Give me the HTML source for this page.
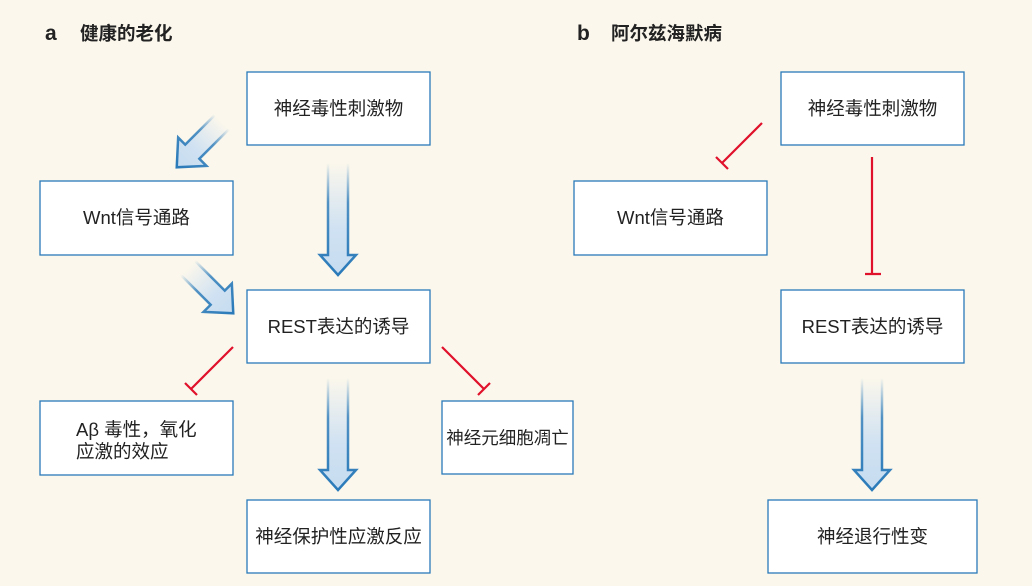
<!DOCTYPE html>
<html><head><meta charset="utf-8"><style>
body{margin:0;background:#fbf7ec;}
svg{display:block}
text{font-family:"Liberation Sans","Noto Sans CJK SC",sans-serif;font-size:18.5px;fill:#222;}
.b{fill:#fff;stroke:#2a7ab9;stroke-width:1.3}
.r{stroke:#e0112b;stroke-width:2.2;fill:none}
</style></head><body>
<svg width="1032" height="586" viewBox="0 0 1032 586">
<defs>
<linearGradient id="gf" x1="0" y1="0" x2="0" y2="1">
<stop offset="0" stop-color="#fbf7ec"/><stop offset="0.6" stop-color="#cfe1f2"/><stop offset="1" stop-color="#c6dcf0"/></linearGradient>
<linearGradient id="gs" x1="0" y1="0" x2="0" y2="1">
<stop offset="0" stop-color="#2a7ab9" stop-opacity="0"/><stop offset="0.35" stop-color="#2a7ab9" stop-opacity="0.8"/><stop offset="1" stop-color="#2a7ab9"/></linearGradient>
<g id="av">
<path d="M-10,0 L-10,92 L-18,92 L0,112 L18,92 L10,92 L10,0Z" fill="url(#gf)"/>
<path d="M-10,0 L-10,92 L-18,92 L0,112 L18,92 L10,92 L10,0" fill="none" stroke="url(#gs)" stroke-width="2.5"/>
</g>
<g id="ad">
<path d="M-10,0 L-10,42 L-20,42 L0,64 L20,42 L10,42 L10,0Z" fill="url(#gf)"/>
<path d="M-10,0 L-10,42 L-20,42 L0,64 L20,42 L10,42 L10,0" fill="none" stroke="url(#gs)" stroke-width="2.5"/>
</g>
</defs>
<text x="45" y="40" style="font-weight:bold;font-size:21px">a</text>
<text x="80" y="40" style="font-weight:bold">健康的老化</text>
<text x="577" y="40" style="font-weight:bold;font-size:21px">b</text>
<text x="611" y="40" style="font-weight:bold">阿尔兹海默病</text>

<rect class="b" x="247" y="72" width="183" height="73"/><text x="338.5" y="115" text-anchor="middle">神经毒性刺激物</text>
<rect class="b" x="40" y="181" width="193" height="74"/><text x="136.5" y="224" text-anchor="middle">Wnt信号通路</text>
<rect class="b" x="247" y="290" width="183" height="73"/><text x="338.5" y="333" text-anchor="middle">REST表达的诱导</text>
<rect class="b" x="40" y="401" width="193" height="74"/><text x="76" y="436">Aβ 毒性，氧化</text><text x="76" y="458">应激的效应</text>
<rect class="b" x="442" y="401" width="131" height="73"/><text x="507.5" y="444" text-anchor="middle" style="font-size:17.5px">神经元细胞凋亡</text>
<rect class="b" x="247" y="500" width="183" height="73"/><text x="338.5" y="543" text-anchor="middle">神经保护性应激反应</text>

<rect class="b" x="781" y="72" width="183" height="73"/><text x="872.5" y="115" text-anchor="middle">神经毒性刺激物</text>
<rect class="b" x="574" y="181" width="193" height="74"/><text x="670.5" y="224" text-anchor="middle">Wnt信号通路</text>
<rect class="b" x="781" y="290" width="183" height="73"/><text x="872.5" y="333" text-anchor="middle">REST表达的诱导</text>
<rect class="b" x="768" y="500" width="209" height="73"/><text x="872.5" y="543" text-anchor="middle">神经退行性变</text>

<use href="#av" transform="translate(338,163)"/>
<use href="#av" transform="translate(338,378)"/>
<use href="#av" transform="translate(872,378)"/>
<use href="#ad" transform="translate(222,122) rotate(45)"/>
<use href="#ad" transform="translate(188,268) rotate(-45)"/>

<path class="r" d="M233,347 L191,389 M185,383 L197,395"/>
<path class="r" d="M442,347 L484,389 M478,395 L490,383"/>
<path class="r" d="M762,123 L722,163 M716,157 L728,169"/>
<path class="r" d="M872,157 L872,274 M865,274 L881,274"/>
</svg>
</body></html>
